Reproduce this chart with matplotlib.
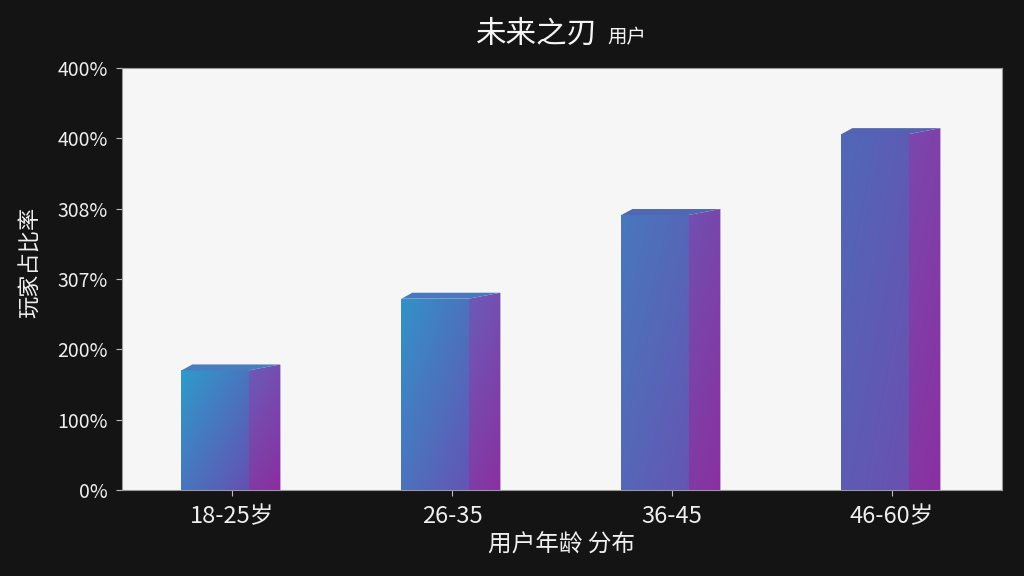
import numpy as np
import matplotlib
matplotlib.use('Agg')
import matplotlib.pyplot as plt
from matplotlib.patches import Polygon
from matplotlib.colors import to_rgb

plt.rcParams['font.family'] = ['Noto Sans CJK SC', 'DejaVu Sans']

# data
age_groups = ['18-25岁', '26-35', '36-45', '46-60岁']
share = [170, 272, 391, 506]
y_ticks = [0, 100, 200, 300, 400, 500, 600]
y_tick_labels = ['0%', '100%', '200%', '307%', '308%', '400%', '400%']

# bar colours (front start, front end, side start, side end, top)
front_start = ['#2e9bcb', '#3392c8', '#4878bd', '#5068b8']
front_end = ['#6450b2', '#6454b4', '#6456b2', '#6a50b0']
side_start = ['#6a5cb8', '#6a5cb8', '#7050b0', '#7a48ae']
side_end = ['#8a2e9e', '#8a30a0', '#8a30a0', '#8a30a0']
top_col = ['#4a7cc0', '#4a78bc', '#5068b4', '#5462b2']

fig = plt.figure(figsize=(10.24, 5.76), dpi=100)
fig.patch.set_facecolor('#141414')
ax = fig.add_axes([122 / 1024, 86 / 576, 880 / 1024, 422 / 576])
ax.set_facecolor('#f6f6f7')

front_l, front_r, side_r = -0.23, 0.075, 0.22
dx, dy = 0.05, 8.5


def grad_face(poly, x0, x1, y0, y1, c0, c1, wu, wv):
    c0 = np.array(to_rgb(c0))
    c1 = np.array(to_rgb(c1))
    u = np.linspace(0, 1, 60)[None, :]
    v = np.linspace(0, 1, 120)[:, None]  # 0 at top
    t = np.clip(wu * u + wv * v, 0, 1)
    img = c0[None, None, :] * (1 - t[..., None]) + c1[None, None, :] * t[..., None]
    im = ax.imshow(img, extent=[x0, x1, y0, y1], origin='upper',
                   aspect='auto', zorder=3, interpolation='bilinear')
    patch = Polygon(poly, closed=True, transform=ax.transData,
                    facecolor='none', edgecolor='none')
    ax.add_patch(patch)
    im.set_clip_path(patch)


for i, h in enumerate(share):
    xl, xm, xr = i + front_l, i + front_r, i + side_r
    # front face
    front = [(xl, 0), (xm, 0), (xm, h), (xl, h)]
    grad_face(front, xl, xm, 0, h, front_start[i], front_end[i], 0.5, 0.5)
    # side face
    side = [(xm, 0), (xr, 0), (xr, h + dy), (xm, h)]
    grad_face(side, xm, xr, 0, h + dy, side_start[i], side_end[i], 0.3, 0.7)
    # top face
    top = [(xl, h), (xl + dx, h + dy), (xr, h + dy), (xm, h)]
    ax.add_patch(Polygon(top, closed=True, facecolor=top_col[i],
                         edgecolor='none', zorder=4))

ax.set_xlim(-0.5, len(age_groups) - 0.5)
ax.set_ylim(0, 600)
ax.set_xticks(range(len(age_groups)))
ax.set_xticklabels(age_groups, fontsize=17, color='#f0f0f0')
ax.set_yticks(y_ticks)
ax.set_yticklabels(y_tick_labels, fontsize=14, color='#e8e8e8')
ax.tick_params(axis='both', colors='#bbbbbb', length=4, width=0.8,
               labelcolor='#eeeeee')
ax.tick_params(axis='x', pad=7)
ax.tick_params(axis='y', pad=6)
for s in ax.spines.values():
    s.set_color('#9a9a9a')
    s.set_linewidth(0.8)

ax.set_xlabel('用户年龄 分布', fontsize=17, color='#f0f0f0', labelpad=4)
ax.set_ylabel('玩家占比率', fontsize=16, color='#f0f0f0')
ax.yaxis.set_label_coords(-0.091, 0.54)

fig.text(0.584, 0.94, '未来之刃', fontsize=22, color='#f4f4f4',
         ha='right', va='center')
fig.text(0.593, 0.935, '用户', fontsize=14, color='#f4f4f4',
         ha='left', va='center')

plt.savefig('out.png', dpi=100, facecolor=fig.get_facecolor())
